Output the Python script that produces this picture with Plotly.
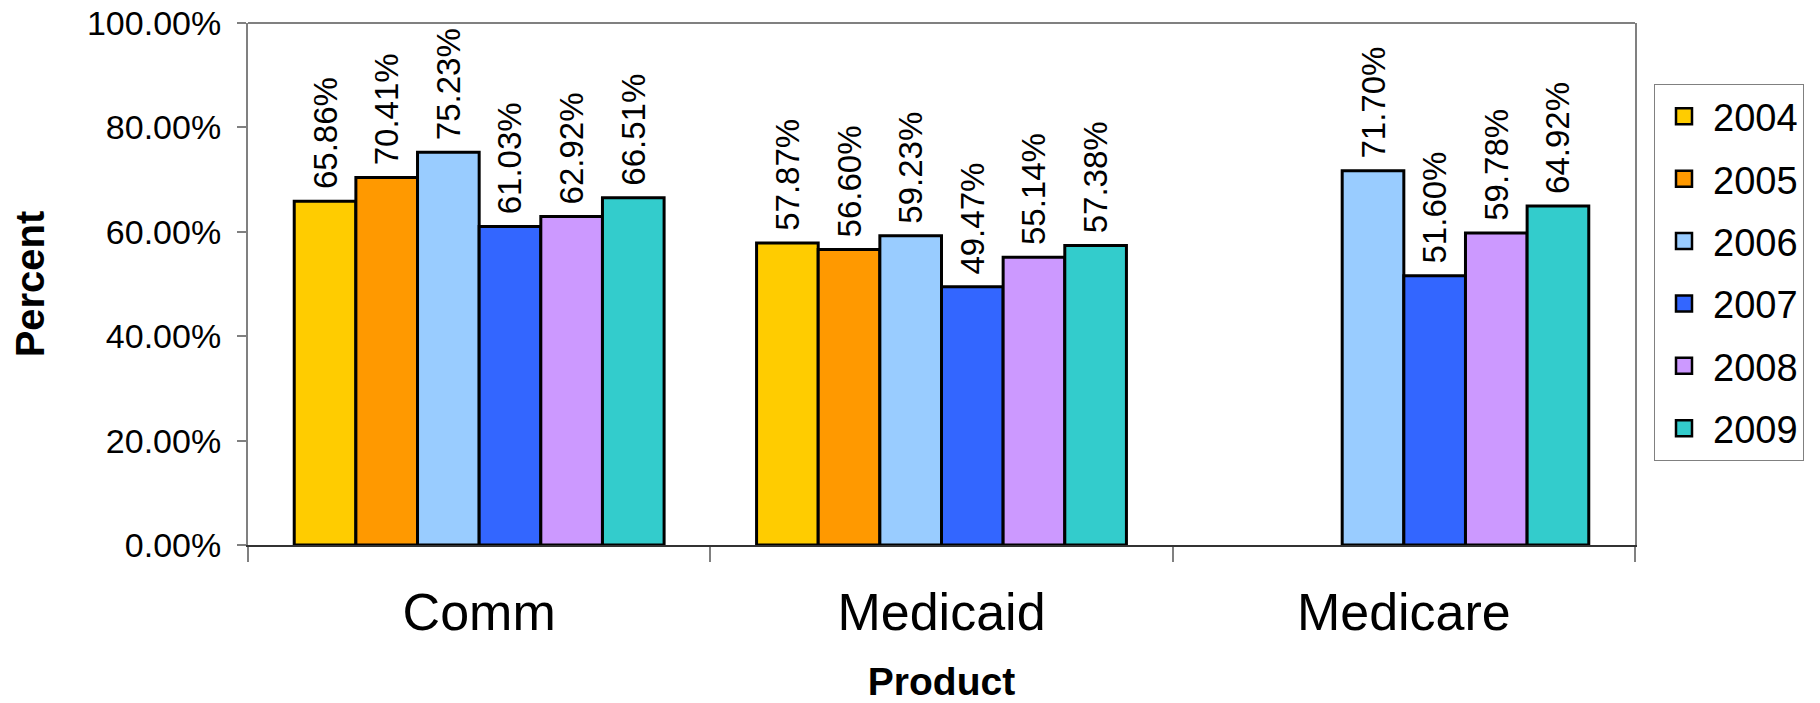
import plotly.graph_objects as go

categories = ["Comm", "Medicaid", "Medicare"]
years = ["2004", "2005", "2006", "2007", "2008", "2009"]
v2004 = [65.86, 57.87, None]
v2005 = [70.41, 56.60, None]
v2006 = [75.23, 59.23, 71.70]
v2007 = [61.03, 49.47, 51.60]
v2008 = [62.92, 55.14, 59.78]
v2009 = [66.51, 57.38, 64.92]
series = [v2004, v2005, v2006, v2007, v2008, v2009]
colors = ["#FFCC00", "#FF9900", "#99CCFF", "#3366FF", "#CC99FF", "#33CCCC"]
ytick_vals = [0, 20, 40, 60, 80, 100]
ytick_text = ["0.00%", "20.00%", "40.00%", "60.00%", "80.00%", "100.00%"]

FONT = "Liberation Sans, Arial, sans-serif"

fig = go.Figure()
for yr, vals, col in zip(years, series, colors):
    fig.add_trace(go.Bar(
        x=categories, y=vals, name=yr,
        marker=dict(color=col, line=dict(color="black", width=3)),
        text=[("\u00a0%.2f%%" % v) if v is not None else "" for v in vals],
        textposition="outside", textangle=-90, cliponaxis=False,
        constraintext="none",
        textfont=dict(family=FONT, size=33, color="black"),
        showlegend=False, hoverinfo="skip",
    ))
    fig.add_trace(go.Scatter(
        x=[None], y=[None], mode="markers", name=yr, legendgroup=yr,
        marker=dict(symbol="square", size=16, color=col,
                    line=dict(color="black", width=2.5)),
        showlegend=True,
    ))

fig.update_layout(
    template="none",
    width=1820, height=703,
    margin=dict(l=248, r=185, t=23, b=158, autoexpand=False),
    paper_bgcolor="white", plot_bgcolor="white",
    barmode="group", bargap=0.2, bargroupgap=0,
    font=dict(family=FONT, color="black"),
    legend=dict(
        x=1.0137, y=0.883, xanchor="left", yanchor="top",
        bordercolor="#808080", borderwidth=1, bgcolor="white",
        font=dict(family=FONT, size=38, color="black"),
        tracegroupgap=10, itemwidth=48,
    ),
    xaxis=dict(
        type="category", automargin=False,
        showline=True, linecolor="#333333", linewidth=2,
        ticks="outside", tickson="boundaries", ticklen=15,
        tickcolor="#808080", tickwidth=2,
        tickfont=dict(family=FONT, size=52, color="black"),
        ticklabelstandoff=21,
        showgrid=False, zeroline=False,
        title=dict(text="<b>Product</b>", font=dict(family=FONT, size=39, color="black"),
                   standoff=34),
    ),
    yaxis=dict(
        range=[0, 100], automargin=False,
        tickvals=ytick_vals, ticktext=ytick_text,
        ticklabeloverflow="allow",
        showline=True, linecolor="#808080", linewidth=2, mirror=True,
        ticks="outside", ticklen=9, tickcolor="#808080", tickwidth=2,
        tickfont=dict(family=FONT, size=34, color="black"),
        ticklabelstandoff=9,
        showgrid=False, zeroline=False,
        title=dict(text="<b>Percent</b>", font=dict(family=FONT, size=40, color="black"),
                   standoff=30),
    ),
    shapes=[dict(type="line", xref="paper", yref="paper", x0=0, x1=1, y0=1, y1=1,
                 line=dict(color="#808080", width=2))],
)

# remove the default 8px page margin so the figure fills the 1820x703 window exactly
fig.write_html("out.html", config={"displayModeBar": False},
               post_script="document.body.style.margin='0';")
